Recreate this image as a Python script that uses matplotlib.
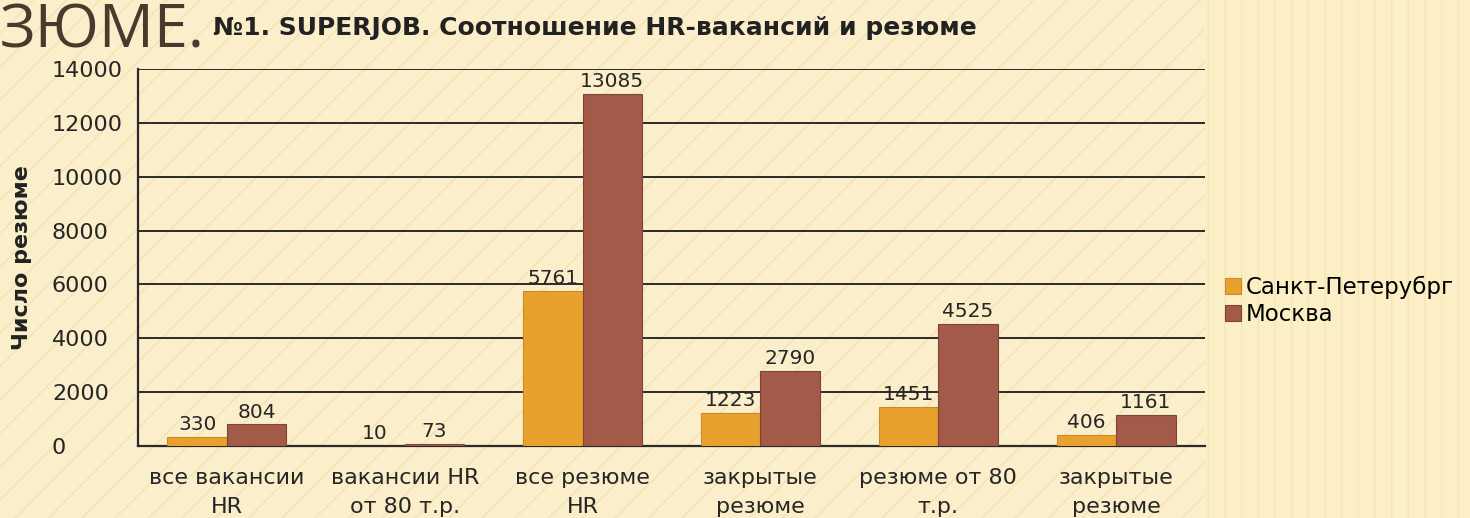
import matplotlib
matplotlib.use("Agg")
import matplotlib.pyplot as plt
import numpy as np
from matplotlib.patches import Rectangle

categories = ["все вакансии\nHR", "вакансии HR\nот 80 т.р.", "все резюме\nHR",
              "закрытые\nрезюме", "резюме от 80\nт.р.", "закрытые\nрезюме"]
spb = [330, 10, 5761, 1223, 1451, 406]
msk = [804, 73, 13085, 2790, 4525, 1161]
series_names = ["Санкт-Петерубрг", "Москва"]
yticks = [0, 2000, 4000, 6000, 8000, 10000, 12000, 14000]

plt.rcParams['font.family'] = ['DejaVu Sans']

fig = plt.figure(figsize=(14.7, 5.18), dpi=100)
bg = '#FBEECA'
fig.patch.set_facecolor(bg)
# decorative background hatching
fig.patches.append(Rectangle((0, 0), 1, 1, transform=fig.transFigure,
                             facecolor=bg, edgecolor='#F3E2B4', hatch='/',
                             linewidth=0, zorder=-10))
fig.patches.append(Rectangle((0.82, 0), 0.18, 1, transform=fig.transFigure,
                             facecolor='#FCEFC6', edgecolor='#F6E6B6', hatch='|',
                             linewidth=0, zorder=-9))

ax = fig.add_axes([138/1470, 1-446/518, (1205-138)/1470, (446-69)/518])
ax.set_facecolor('none')

x = np.arange(len(categories))
w = 0.335
c_spb = '#E9A12E'
c_msk = '#A35A48'
b1 = ax.bar(x - w/2, spb, w, color=c_spb, edgecolor='#C98A2A', linewidth=0.8,
            label=series_names[0], zorder=3)
b2 = ax.bar(x + w/2, msk, w, color=c_msk, edgecolor='#7E4436', linewidth=0.8,
            label=series_names[1], zorder=3)

for bars, vals in ((b1, spb), (b2, msk)):
    for r, v in zip(bars, vals):
        ax.annotate(str(v), (r.get_x() + r.get_width()/2, v),
                    xytext=(0, 2), textcoords='offset points',
                    ha='center', va='bottom', fontsize=14.5, color='#262626', zorder=4)

ax.set_xlim(-0.5, len(categories) - 0.5)
ax.set_ylim(0, 14000)
ax.set_yticks(yticks)
ax.set_yticklabels([str(t) for t in yticks])
ax.yaxis.grid(True, color='#2A2A2A', linewidth=1.4)
ax.set_axisbelow(True)
ax.tick_params(axis='y', length=0, pad=62, labelsize=16, labelcolor='#262626')
for lab in ax.get_yticklabels():
    lab.set_ha('left')
ax.set_xticks(x)
ax.set_xticklabels(categories, fontsize=16, color='#262626', linespacing=1.55)
ax.tick_params(axis='x', length=0, pad=16)

for s in ('top', 'right'):
    ax.spines[s].set_visible(False)
for s in ('left', 'bottom'):
    ax.spines[s].set_color('#2A2A2A')
    ax.spines[s].set_linewidth(1.6)

ax.set_ylabel("Число резюме", fontsize=16, color='#222222', fontweight='bold')
ax.yaxis.set_label_coords(-0.099, 0.5)

fig.text(595/1470, 1-28/518, "№1. SUPERJOB. Соотношение HR-вакансий и резюме",
         ha='center', va='center', fontsize=18, fontweight='bold', color='#222222')
fig.text(0/1470, 1-47/518, "ЗЮМЕ.", ha='left', va='baseline', fontsize=44,
         color='#4A3A2E', family=['Open Sans', 'DejaVu Sans'])

leg = ax.legend(loc='center left', bbox_to_anchor=(1.01, 0.385), frameon=False,
                fontsize=16.5, handlelength=0.7, handleheight=0.7, handletextpad=0.2,
                labelspacing=0.15, borderaxespad=0)

fig.savefig("out.png", dpi=100, facecolor=fig.get_facecolor())
